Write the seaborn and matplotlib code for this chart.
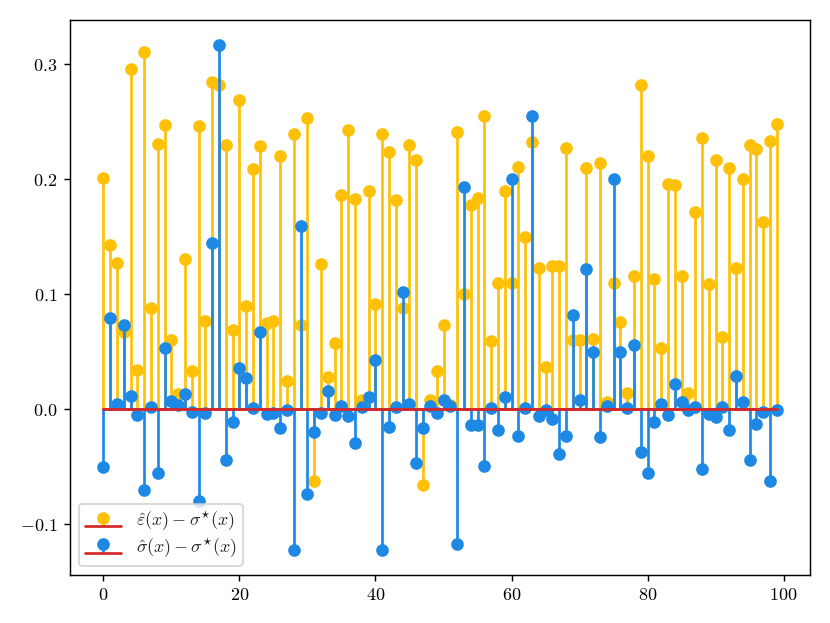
import numpy as np
import matplotlib
matplotlib.use("Agg")
import matplotlib.pyplot as plt
import seaborn as sns

# values
idx = list(range(100))
eps_err = [0.201, 0.143, 0.127, 0.067, 0.296, 0.034, 0.311, 0.088, 0.231, 0.247,
           0.060, 0.013, 0.131, 0.033, 0.246, 0.077, 0.285, 0.282, 0.230, 0.069,
           0.269, 0.090, 0.209, 0.229, 0.075, 0.077, 0.220, 0.025, 0.239, 0.073,
           0.253, -0.062, 0.126, 0.028, 0.058, 0.186, 0.243, 0.183, 0.008, 0.190,
           0.092, 0.239, 0.224, 0.182, 0.088, 0.230, 0.217, -0.066, 0.008, 0.033,
           0.073, 0.004, 0.241, 0.100, 0.178, 0.184, 0.255, 0.059, 0.110, 0.190,
           0.110, 0.211, 0.150, 0.232, 0.123, 0.037, 0.125, 0.125, 0.227, 0.060,
           0.060, 0.210, 0.061, 0.214, 0.006, 0.110, 0.076, 0.014, 0.116, 0.282,
           0.220, 0.113, 0.053, 0.196, 0.195, 0.116, 0.014, 0.172, 0.236, 0.109,
           0.217, 0.063, 0.210, 0.123, 0.200, 0.230, 0.226, 0.163, 0.233, 0.248]
sig_err = [-0.050, 0.079, 0.005, 0.073, 0.012, -0.005, -0.070, 0.002, -0.055, 0.053,
           0.007, 0.004, 0.013, -0.002, -0.080, -0.003, 0.145, 0.317, -0.044, -0.011,
           0.036, 0.027, 0.001, 0.067, -0.004, -0.003, -0.016, -0.001, -0.122, 0.159,
           -0.074, -0.020, -0.003, 0.016, -0.005, 0.003, -0.006, -0.029, 0.002, 0.011,
           0.043, -0.122, -0.015, 0.002, 0.102, 0.005, -0.047, -0.016, 0.003, -0.003,
           0.008, 0.003, -0.117, 0.193, -0.014, -0.014, -0.049, 0.001, -0.018, 0.011,
           0.200, -0.023, 0.001, 0.255, -0.006, -0.001, -0.008, -0.039, -0.023, 0.082,
           0.008, 0.122, 0.050, -0.024, 0.003, 0.200, 0.050, 0.001, 0.056, -0.037,
           -0.055, -0.011, 0.005, -0.005, 0.022, 0.006, -0.001, 0.002, -0.052, -0.004,
           -0.007, 0.002, -0.018, 0.029, 0.006, -0.044, -0.013, -0.002, -0.062, -0.001]

sns.set_style("ticks")
plt.rcParams['font.family'] = 'serif'
plt.rcParams['font.serif'] = ['cmr10', 'DejaVu Serif']
plt.rcParams['mathtext.fontset'] = 'cm'
plt.rcParams['axes.formatter.use_mathtext'] = True
plt.rcParams['axes.unicode_minus'] = True

yellow = '#FFC107'
blue = '#1E88E5'
red = '#D62728'

fig, ax = plt.subplots(figsize=(830 / 130, 623 / 130), dpi=130)

for vals, col, lab in [(eps_err, yellow, r'$\hat{\varepsilon}(x) - \sigma^{\star}(x)$'),
                       (sig_err, blue, r'$\hat{\sigma}(x) - \sigma^{\star}(x)$')]:
    m, s, b = ax.stem(idx, vals, label=lab)
    plt.setp(m, color=col, markersize=6)
    plt.setp(s, color=col, linewidth=1.5)
    plt.setp(b, color=red, linewidth=1.5)

for sp in ax.spines.values():
    sp.set_color('black')
    sp.set_linewidth(0.8)
ax.tick_params(direction='out', length=3.5, width=0.8, colors='black')
ax.set_yticks([-0.1, 0.0, 0.1, 0.2, 0.3])
ax.legend(loc='lower left', frameon=True, labelspacing=0.15, borderpad=0.35)

plt.tight_layout()
plt.savefig('out.png', dpi=130)
